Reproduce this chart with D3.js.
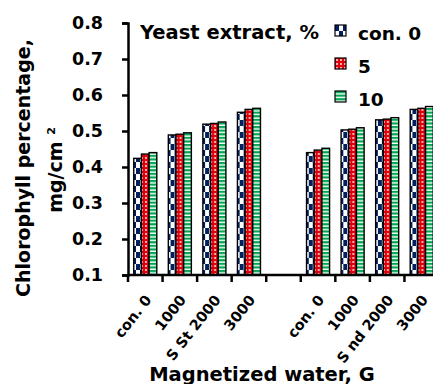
<!DOCTYPE html>
<html lang="en">
<head>
    <meta charset="UTF-8">
    <title>Chlorophyll percentage</title>
    <script src="https://d3js.org/d3.v7.min.js"></script>
    <style type="text/css">
        body { margin: 0; background: white; }
        text { font-family: "DejaVu Sans", sans-serif; font-weight: bold; fill: black; }
    </style>
</head>
<body>
<script type="text/javascript">

    // slots on the x axis; "gap" is the empty slot between the two seasons
    const slots = ["a0", "a1000", "a2000", "a3000", "gap", "b0", "b1000", "b2000", "b3000"];
    const slotLabels = ["con. 0", "1000", "S St 2000", "3000", "", "con. 0", "1000", "S nd 2000", "3000"];
    const series = ["con. 0", "5", "10"];
    const con0 = [0.424, 0.489, 0.519, 0.552, null, 0.440, 0.503, 0.531, 0.560];
    const ye5  = [0.436, 0.491, 0.521, 0.560, null, 0.447, 0.505, 0.533, 0.563];
    const ye10 = [0.440, 0.495, 0.525, 0.563, null, 0.452, 0.509, 0.537, 0.568];
    const yTicks = [0.1, 0.2, 0.3, 0.4, 0.5, 0.6, 0.7, 0.8];

    const width = 433, height = 384;
    const svg = d3.select("body").append("svg")
        .attr("width", width)
        .attr("height", height);

    // fill patterns
    const defs = svg.append("defs");
    const p0 = defs.append("pattern").attr("id", "pat0")
        .attr("patternUnits", "userSpaceOnUse").attr("width", 8).attr("height", 12);
    p0.append("rect").attr("width", 8).attr("height", 12).attr("fill", "white");
    p0.append("rect").attr("width", 4).attr("height", 6).attr("fill", "#002060");
    p0.append("rect").attr("x", 4).attr("y", 6).attr("width", 4).attr("height", 6).attr("fill", "#002060");

    const p1 = defs.append("pattern").attr("id", "pat1")
        .attr("patternUnits", "userSpaceOnUse").attr("width", 4).attr("height", 4);
    p1.append("rect").attr("width", 4).attr("height", 4).attr("fill", "#e0000b");
    p1.append("circle").attr("cx", 2).attr("cy", 2).attr("r", 0.9).attr("fill", "white");

    const p2 = defs.append("pattern").attr("id", "pat2")
        .attr("patternUnits", "userSpaceOnUse").attr("width", 4).attr("height", 3.6);
    p2.append("rect").attr("width", 4).attr("height", 3.6).attr("fill", "#00a550");
    p2.append("rect").attr("y", 2.2).attr("width", 4).attr("height", 1.4).attr("fill", "white");

    const fills = ["url(#pat0)", "url(#pat1)", "url(#pat2)"];

    const x0 = d3.scaleBand().domain(slots).range([128, 439]);
    const x1 = d3.scaleBand().domain(series).range([0, x0.bandwidth()]).paddingOuter(0.75);
    const y = d3.scaleLinear().domain([0.1, 0.8]).range([275, 23]);

    const rows = slots.map((s, i) => ({ slot: s, vals: [con0[i], ye5[i], ye10[i]] }))
        .filter(d => d.vals[0] !== null);

    const groups = svg.append("g").selectAll("g")
        .data(rows)
        .enter().append("g")
        .attr("transform", d => "translate(" + x0(d.slot) + ",0)");

    groups.selectAll("rect")
        .data(d => d.vals.map((v, j) => ({ key: series[j], v: v, j: j })))
        .enter().append("rect")
        .attr("x", d => x1(d.key))
        .attr("y", d => y(d.v))
        .attr("width", x1.bandwidth())
        .attr("height", d => y(0.1) - y(d.v))
        .attr("fill", d => fills[d.j])
        .attr("stroke", "black")
        .attr("stroke-width", 1.4);

    // y axis
    const yAxis = svg.append("g")
        .attr("transform", "translate(128,0)")
        .call(d3.axisLeft(y).tickValues(yTicks).tickFormat(d3.format(".1f")).tickSize(6).tickPadding(19));
    yAxis.select(".domain").attr("stroke-width", 2.5);
    yAxis.selectAll(".tick line").attr("stroke-width", 2.5);
    yAxis.selectAll("text").style("font-size", "17.5px");

    // x axis: ticks at slot boundaries
    const bounds = slots.map(s => x0(s)).concat([x0.range()[1]]);
    const xAxis = svg.append("g").attr("transform", "translate(0,275)");
    xAxis.append("line")
        .attr("x1", 128).attr("x2", width)
        .attr("stroke", "black").attr("stroke-width", 2.5);
    xAxis.selectAll(".tk")
        .data(bounds)
        .enter().append("line")
        .attr("x1", d => d).attr("x2", d => d)
        .attr("y1", 0).attr("y2", 7)
        .attr("stroke", "black").attr("stroke-width", 2.5);

    xAxis.selectAll(".lbl")
        .data(slots.map((s, i) => ({ s: s, t: slotLabels[i] })).filter(d => d.t))
        .enter().append("text")
        .attr("text-anchor", "end")
        .attr("transform", d => "translate(" + (x0(d.s) + x0.bandwidth() / 2 + 7) + ",25) rotate(-52)")
        .style("font-size", "14.5px")
        .text(d => d.t);

    // axis titles
    svg.append("text")
        .attr("x", 262).attr("y", 381)
        .attr("text-anchor", "middle")
        .style("font-size", "19.5px")
        .text("Magnetized water, G");

    svg.append("text")
        .attr("transform", "translate(30,168) rotate(-90)")
        .attr("text-anchor", "middle")
        .style("font-size", "19px")
        .text("Chlorophyll percentage,");
    const t2 = svg.append("text")
        .attr("transform", "translate(62,170) rotate(-90)")
        .attr("text-anchor", "middle")
        .style("font-size", "19px");
    t2.append("tspan").text("mg/cm ");
    t2.append("tspan").attr("dy", -7).style("font-size", "11px").text("2");

    // legend
    svg.append("text")
        .attr("x", 140).attr("y", 39)
        .style("font-size", "19.5px")
        .text("Yeast extract, %");

    const legend = svg.append("g").selectAll("g")
        .data(series)
        .enter().append("g")
        .attr("transform", (d, i) => "translate(335," + (25 + i * 33) + ")");
    legend.append("rect")
        .attr("width", 11).attr("height", 11)
        .attr("fill", (d, i) => fills[i])
        .attr("stroke", "black").attr("stroke-width", 1.2);
    legend.append("text")
        .attr("x", 23).attr("y", 15)
        .style("font-size", "18.5px")
        .text(d => d);

</script>
</body>
</html>
